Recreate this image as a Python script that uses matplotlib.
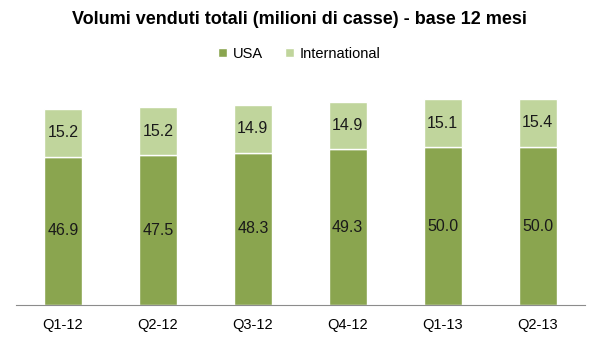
import matplotlib
matplotlib.use("Agg")
import matplotlib.pyplot as plt
from matplotlib import font_manager

categories = ["Q1-12", "Q2-12", "Q3-12", "Q4-12", "Q1-13", "Q2-13"]
usa = [46.9, 47.5, 48.3, 49.3, 50.0, 50.0]
international = [15.2, 15.2, 14.9, 14.9, 15.1, 15.4]

names = {f.name for f in font_manager.fontManager.ttflist}
narrow = "Liberation Sans Narrow" if "Liberation Sans Narrow" in names else "Liberation Sans"

c_usa = "#8aa54f"
c_int = "#c0d59c"

fig = plt.figure(figsize=(5.99, 3.41), dpi=100)
ax = fig.add_axes([15.6 / 599, 1 - 305 / 341, (585 - 15.6) / 599, 221 / 341])

x = list(range(len(categories)))
b1 = ax.bar(x, usa, width=0.4, color=c_usa, edgecolor="white", linewidth=1, label="USA")
b2 = ax.bar(x, international, width=0.4, bottom=usa, color=c_int, edgecolor="white", linewidth=1, label="International")

for xi, u, i in zip(x, usa, international):
    ax.text(xi, u / 2, f"{u:.1f}", ha="center", va="center", fontsize=11.5, family="Liberation Sans", color="#1a1a1a")
    ax.text(xi, u + i / 2, f"{i:.1f}", ha="center", va="center", fontsize=11.5, family="Liberation Sans", color="#1a1a1a")

ax.set_xlim(-0.5, len(categories) - 0.5)
ax.set_ylim(0, 70)
ax.set_yticks([])
ax.set_xticks(x)
ax.set_xticklabels(categories, fontsize=10.5, family="Liberation Sans")
ax.tick_params(axis="x", length=0, pad=9)
for s in ["top", "right", "left"]:
    ax.spines[s].set_visible(False)
ax.spines["bottom"].set_color("#8c8c8c")

fig.text(0.5, 1 - 19 / 341, "Volumi venduti totali (milioni di casse) - base 12 mesi",
         ha="center", va="center", fontsize=13, fontweight="bold", family=narrow)

leg = fig.legend(handles=[b1, b2], labels=["USA", "International"], loc="center",
                 bbox_to_anchor=(0.5, 1 - 54 / 341), ncol=2, frameon=False,
                 prop={"family": narrow, "size": 10.5}, handlelength=0.6, handleheight=0.6,
                 handletextpad=0.4, columnspacing=1.5)

fig.savefig("out.png", dpi=100)
